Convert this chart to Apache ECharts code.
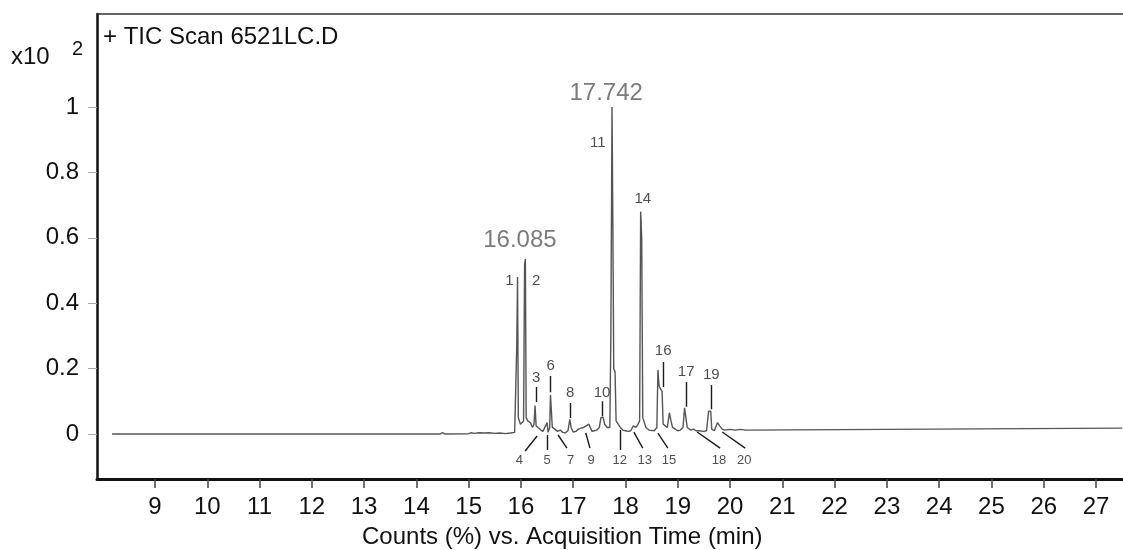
<!DOCTYPE html>
<html>
<head>
<meta charset="utf-8">
<script src="https://cdn.jsdelivr.net/npm/echarts@6/dist/echarts.min.js"></script>
<style>
  html, body { margin: 0; padding: 0; background: #fff; }
  #chart { width: 1123px; height: 550px; }
</style>
</head>
<body>
<div id="chart"></div>
<script>
// TIC trace, [time (min), counts x10^2]
const ticTrace = [
  [8.18, 0], [14.45, 0], [14.5, 0.004], [14.55, 0], [15.0, 0.001], [15.05, 0.004],
  [15.1, 0.002], [15.2, 0.004], [15.3, 0.003], [15.4, 0.004], [15.5, 0.002], [15.6, 0.003],
  [15.7, 0.001], [15.8, 0.003], [15.88, 0.005],
  [15.9, 0.01], [15.92, 0.27], [15.935, 0.48], [15.95, 0.05], [15.97, 0.04], [15.99, 0.03], [16.02, 0.03],
  [16.05, 0.04], [16.07, 0.52], [16.085, 0.535], [16.1, 0.05], [16.13, 0.04], [16.18, 0.035], [16.22, 0.02],
  [16.25, 0.03], [16.27, 0.087], [16.29, 0.025], [16.33, 0.02], [16.38, 0.012], [16.42, 0.008],
  [16.47, 0.025], [16.5, 0.035], [16.52, 0.005],
  [16.55, 0.02], [16.565, 0.12], [16.58, 0.12], [16.6, 0.02], [16.65, 0.015], [16.7, 0.008],
  [16.75, 0.012], [16.8, 0.005], [16.85, 0.004],
  [16.9, 0.01], [16.935, 0.045], [16.96, 0.02], [17.0, 0.006], [17.05, 0.008], [17.1, 0.015],
  [17.15, 0.018], [17.2, 0.02], [17.25, 0.025], [17.3, 0.03], [17.33, 0.018], [17.36, 0.008],
  [17.4, 0.01], [17.45, 0.012],
  [17.5, 0.02], [17.53, 0.05], [17.57, 0.052], [17.6, 0.03], [17.65, 0.02], [17.7, 0.02],
  [17.72, 0.3], [17.742, 1.0], [17.76, 0.6], [17.775, 0.2], [17.8, 0.19], [17.82, 0.04],
  [17.86, 0.03], [17.9, 0.02], [17.95, 0.012], [18.0, 0.01], [18.05, 0.008], [18.1, 0.01],
  [18.15, 0.025], [18.18, 0.03], [18.2, 0.02], [18.24, 0.03],
  [18.27, 0.04], [18.29, 0.68], [18.31, 0.6], [18.33, 0.05], [18.36, 0.045], [18.39, 0.02],
  [18.45, 0.012], [18.55, 0.01], [18.58, 0.005],
  [18.6, 0.02], [18.62, 0.196], [18.64, 0.15], [18.66, 0.14], [18.68, 0.135], [18.7, 0.13],
  [18.72, 0.03], [18.76, 0.025], [18.8, 0.02], [18.84, 0.065], [18.87, 0.04], [18.9, 0.02],
  [18.95, 0.015], [19.0, 0.01], [19.05, 0.012], [19.1, 0.02],
  [19.13, 0.08], [19.16, 0.075], [19.18, 0.02], [19.25, 0.012], [19.3, 0.015], [19.35, 0.01],
  [19.4, 0.01], [19.5, 0.008], [19.55, 0.01],
  [19.59, 0.07], [19.63, 0.07], [19.65, 0.015], [19.7, 0.01], [19.76, 0.035], [19.8, 0.025],
  [19.85, 0.015], [19.9, 0.012], [20.0, 0.014], [20.1, 0.012], [20.2, 0.014], [20.3, 0.012],
  [20.31, 0.018], [27.5, 0.018]
];

// peak numbers above the trace
const topLabels = ['1', '2', '3', '6', '8', '10', '11', '14', '16', '17', '19'];
const topLabelTime = [15.78, 16.29, 16.29, 16.57, 16.94, 17.55, 17.47, 18.33, 18.72, 19.16, 19.64];
const topLabelY = [0.468, 0.468, 0.171, 0.208, 0.125, 0.125, 0.89, 0.72, 0.254, 0.19, 0.18];

// peak numbers below the baseline
const bottomLabels = ['4', '5', '7', '9', '12', '13', '15', '18', '20'];
const bottomLabelTime = [15.97, 16.5, 16.95, 17.34, 17.89, 18.37, 18.83, 19.79, 20.27];
const bottomLabelY = -0.08;

// leader lines [[t1, y1], [t2, y2]]
const leaders = [
  [[16.29, 0.144], [16.29, 0.098]],
  [[16.57, 0.177], [16.57, 0.128]],
  [[16.94, 0.095], [16.94, 0.049]],
  [[17.55, 0.1], [17.55, 0.055]],
  [[18.72, 0.22], [18.72, 0.144]],
  [[19.16, 0.159], [19.16, 0.083]],
  [[19.64, 0.15], [19.64, 0.076]],
  [[16.08, -0.052], [16.31, -0.006]],
  [[16.5, -0.049], [16.5, -0.003]],
  [[16.71, -0.003], [16.88, -0.043]],
  [[17.24, 0.003], [17.32, -0.043]],
  [[17.89, 0.012], [17.89, -0.049]],
  [[18.16, 0.006], [18.33, -0.043]],
  [[18.62, 0.003], [18.81, -0.043]],
  [[19.37, 0.006], [19.81, -0.043]],
  [[19.85, 0.006], [20.29, -0.043]]
];

// retention time labels
const rtLabels = ['16.085', '17.742'];
const rtLabelTime = [15.98, 17.63];
const rtLabelY = [0.593, 1.043];

const xTicks = [9, 10, 11, 12, 13, 14, 15, 16, 17, 18, 19, 20, 21, 22, 23, 24, 25, 26, 27];
const yTicks = [0, 0.2, 0.4, 0.6, 0.8, 1];

const font = 'Liberation Sans, Arial, Helvetica, sans-serif';
const chart = echarts.init(document.getElementById('chart'));

chart.setOption({
  animation: false,
  grid: {
    left: 97,
    right: 0,
    top: 14,
    bottom: 71
  },
  xAxis: [
    {
      type: 'value',
      min: 7.891,
      max: 27.516,
      splitLine: { show: false },
      axisLine: { show: true, onZero: false, lineStyle: { color: '#111', width: 3 } },
      axisTick: { show: true, length: 9, customValues: xTicks, lineStyle: { color: '#444', width: 1.5 } },
      axisLabel: {
        customValues: xTicks,
        margin: 16,
        fontSize: 24,
        color: '#111',
        fontFamily: font
      }
    },
    {
      // top frame line only
      type: 'value',
      position: 'top',
      min: 7.891,
      max: 27.516,
      splitLine: { show: false },
      axisLine: { show: true, onZero: false, lineStyle: { color: '#333', width: 1.5 } },
      axisTick: { show: false },
      axisLabel: { show: false }
    }
  ],
  yAxis: {
    type: 'value',
    min: -0.1376,
    max: 1.2844,
    splitLine: { show: false },
    axisLine: { show: true, onZero: false, lineStyle: { color: '#111', width: 2.5 } },
    axisTick: { show: true, length: 9, customValues: yTicks, lineStyle: { color: '#aaa' } },
    axisLabel: {
      customValues: yTicks,
      margin: 18,
      fontSize: 24,
      color: '#111',
      fontFamily: font,
      formatter: v => String(v)
    }
  },
  graphic: [
    { type: 'text', left: 103, top: 25, style: { text: '+ TIC Scan 6521LC.D', fontSize: 24, fill: '#111', fontFamily: font } },
    { type: 'text', left: 11, top: 45, style: { text: 'x10', fontSize: 24, fill: '#111', fontFamily: font } },
    { type: 'text', left: 72, top: 39, style: { text: '2', fontSize: 20, fill: '#111', fontFamily: font } },
    { type: 'text', left: 362, top: 525, style: { text: 'Counts (%) vs. Acquisition Time (min)', fontSize: 24, fill: '#111', fontFamily: font } }
  ],
  series: [
    {
      name: 'TIC',
      type: 'line',
      data: ticTrace,
      showSymbol: false,
      smooth: false,
      lineStyle: { color: '#555', width: 1.4 },
      z: 3
    },
    {
      type: 'lines',
      coordinateSystem: 'cartesian2d',
      data: leaders.map(c => ({ coords: c })),
      lineStyle: { color: '#1a1a1a', width: 1.4, opacity: 1 },
      z: 4
    },
    {
      type: 'scatter',
      symbolSize: 0,
      data: topLabels.map((t, i) => [topLabelTime[i], topLabelY[i], t]),
      label: { show: true, position: 'inside', formatter: p => p.value[2], fontSize: 15, color: '#222', fontFamily: font },
      z: 5
    },
    {
      type: 'scatter',
      symbolSize: 0,
      data: bottomLabels.map((t, i) => [bottomLabelTime[i], bottomLabelY, t]),
      label: { show: true, position: 'inside', formatter: p => p.value[2], fontSize: 13, color: '#222', fontFamily: font },
      z: 5
    },
    {
      type: 'scatter',
      symbolSize: 0,
      data: rtLabels.map((t, i) => [rtLabelTime[i], rtLabelY[i], t]),
      label: { show: true, position: 'inside', formatter: p => p.value[2], fontSize: 24, color: '#5a5a5a', fontFamily: font },
      z: 5
    }
  ]
});
</script>
</body>
</html>
